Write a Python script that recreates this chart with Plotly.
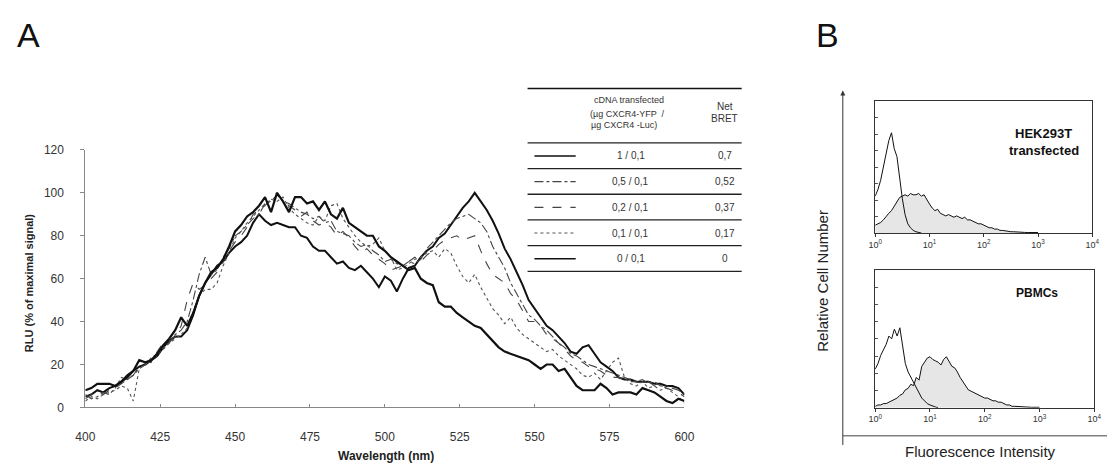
import plotly.graph_objects as go

W, H = 1117, 470

# ---------------- Panel A data (BRET emission spectra) ----------------
wavelength_nm = list(range(400, 601, 2))

rlu_1_01 = [5, 6, 8, 7, 9, 10, 12, 15, 17, 19,
            20, 22, 24, 28, 31, 33, 33, 36, 43, 52,
            58, 62, 66, 68, 72, 75, 77, 80, 86, 90,
            87, 85, 86, 85, 84, 84, 80, 79, 75, 73,
            73, 70, 67, 68, 65, 64, 66, 63, 60, 56,
            61, 59, 54, 60, 65, 66, 70, 73, 75, 79,
            81, 85, 89, 93, 96, 100, 96, 92, 87, 81,
            74, 69, 63, 57, 50, 46, 42, 38, 36, 33,
            30, 26, 25, 28, 29, 25, 21, 19, 17, 14,
            13, 13, 12, 12, 12, 11, 11, 10, 10, 9,
            6]

rlu_05_01 = [6, 4, 5, 7, 6, 9, 14, 13, 15, 18,
             20, 23, 25, 27, 30, 34, 36, 40, 50, 62,
             70, 62, 64, 70, 74, 80, 82, 85, 88, 90,
             95, 96, 99, 96, 95, 93, 91, 90, 88, 89,
             86, 87, 82, 81, 80, 77, 75, 76, 73, 71,
             68, 69, 67, 66, 68, 67, 69, 74, 77, 80,
             83, 86, 88, 89, 90, 88, 86, 82, 75, 70,
             65, 58, 53, 48, 43, 41, 38, 36, 33, 30,
             28, 25, 24, 22, 20, 19, 18, 17, 16, 15,
             14, 13, 12, 13, 11, 12, 10, 10, 9, 8,
             6]

rlu_02_01 = [4, 6, 7, 6, 8, 9, 11, 13, 15, 19,
             21, 21, 26, 30, 31, 33, 38, 50, 58, 55,
             57, 60, 63, 68, 73, 77, 80, 84, 90, 92,
             94, 97, 100, 96, 94, 92, 89, 91, 87, 85,
             86, 84, 80, 82, 79, 75, 72, 74, 71, 69,
             67, 64, 65, 66, 68, 70, 68, 71, 73, 76,
             78, 79, 80, 78, 79, 80, 73, 67, 62, 60,
             58, 53, 50, 45, 40, 40, 38, 34, 32, 30,
             27, 24, 22, 21, 19, 18, 17, 15, 14, 14,
             13, 12, 12, 11, 12, 10, 10, 9, 8, 7,
             5]

rlu_01_01 = [3, 5, 4, 6, 7, 8, 10, 9, 3, 18,
             20, 23, 24, 28, 30, 32, 34, 37, 45, 52,
             55, 55, 58, 66, 72, 79, 82, 86, 89, 92,
             95, 97, 96, 98, 93, 90, 88, 86, 85, 89,
             87, 94, 95, 88, 84, 80, 77, 75, 76, 79,
             73, 70, 64, 65, 67, 69, 70, 72, 73, 70,
             74, 72, 66, 61, 58, 62, 56, 51, 46, 43,
             39, 42, 37, 34, 32, 30, 28, 26, 27, 24,
             22, 20, 18, 15, 14, 16, 13, 17, 21, 23,
             14, 11, 10, 12, 9, 10, 8, 9, 7, 5,
             2]

rlu_0_01 = [8, 9, 11, 11, 11, 10, 12, 14, 17, 22,
            21, 22, 25, 29, 32, 36, 42, 38, 44, 52,
            58, 63, 65, 69, 75, 82, 85, 89, 91, 94,
            98, 91, 100, 96, 91, 98, 98, 95, 96, 92,
            96, 90, 88, 93, 86, 84, 82, 80, 80, 75,
            73, 70, 68, 66, 64, 65, 60, 58, 57, 49,
            47, 47, 44, 42, 40, 38, 37, 34, 31, 28,
            26, 25, 24, 23, 22, 20, 18, 20, 20, 17,
            18, 14, 10, 8, 8, 8, 11, 9, 6, 7,
            7, 7, 6, 9, 8, 7, 5, 3, 2, 4,
            3]

cdna_labels = ["1 / 0,1", "0,5 / 0,1", "0,2 / 0,1", "0,1 / 0,1", "0 / 0,1"]
net_bret = ["0,7", "0,52", "0,37", "0,17", "0"]
x_ticks_a = [400, 425, 450, 475, 500, 525, 550, 575, 600]
y_ticks_a = [0, 20, 40, 60, 80, 100, 120]

# ---------------- Panel B data (flow cytometry histograms) ----------------
log_bins = [0.00, 0.05, 0.10, 0.15, 0.20, 0.25, 0.30, 0.35, 0.40, 0.45,
            0.50, 0.55, 0.60, 0.65, 0.70, 0.75, 0.80, 0.85, 0.90, 0.95,
            1.00, 1.05, 1.10, 1.15, 1.20, 1.25, 1.30, 1.35, 1.40, 1.45,
            1.50, 1.55, 1.60, 1.65, 1.70, 1.75, 1.80, 1.85, 1.90, 1.95,
            2.00, 2.05, 2.10, 2.15, 2.20, 2.25, 2.30, 2.35, 2.40, 2.45,
            2.50, 2.55, 2.60, 2.65, 2.70, 2.75, 2.80, 2.85, 2.90, 2.95,
            3.00, 3.05, 3.10, 3.15, 3.20, 3.25, 3.30, 3.35, 3.40, 3.45,
            3.50, 3.55, 3.60, 3.65, 3.70, 3.75, 3.80, 3.85, 3.90, 3.95,
            4.00]

hek_control = [0.28, 0.33, 0.40, 0.50, 0.58, 0.70, 0.76, 0.64, 0.58, 0.40,
               0.26, 0.14, 0.07, 0.04, 0.02, 0.01, 0.005, 0.0]
hek_cxcr4 = [0.06, 0.07, 0.08, 0.10, 0.13, 0.15, 0.17, 0.20, 0.24, 0.27,
             0.28, 0.29, 0.28, 0.30, 0.29, 0.29, 0.30, 0.28, 0.29, 0.25,
             0.22, 0.19, 0.17, 0.18, 0.15, 0.14, 0.13, 0.14, 0.13, 0.12,
             0.13, 0.12, 0.11, 0.12, 0.10, 0.10, 0.09, 0.08, 0.07, 0.07,
             0.06, 0.05, 0.04, 0.04, 0.03, 0.03, 0.02, 0.02, 0.015, 0.015,
             0.01, 0.01, 0.01, 0.008, 0.006, 0.005, 0.004, 0.004, 0.004, 0.004,
             0.004]
pbmc_control = [0.28, 0.32, 0.38, 0.42, 0.46, 0.52, 0.50, 0.57, 0.52, 0.58,
                0.46, 0.32, 0.26, 0.22, 0.19, 0.14, 0.11, 0.07, 0.05, 0.03,
                0.02, 0.01, 0.005, 0.0]
pbmc_cxcr4 = [0.01, 0.02, 0.02, 0.03, 0.03, 0.04, 0.05, 0.06, 0.07, 0.09,
              0.10, 0.13, 0.14, 0.17, 0.16, 0.22, 0.20, 0.30, 0.33, 0.36,
              0.37, 0.35, 0.34, 0.33, 0.31, 0.35, 0.37, 0.33, 0.30, 0.29,
              0.26, 0.22, 0.19, 0.16, 0.13, 0.12, 0.11, 0.10, 0.09, 0.08,
              0.07, 0.07, 0.06, 0.05, 0.05, 0.04, 0.04, 0.03, 0.02, 0.02,
              0.01, 0.01, 0.008, 0.006, 0.005, 0.003, 0.003, 0.003, 0.003, 0.003,
              0.003]
decade_ticks = [1, 10, 100, 1000, 10000]
decade_text = ["10<sup>0</sup>", "10<sup>1</sup>", "10<sup>2</sup>", "10<sup>3</sup>", "10<sup>4</sup>"]


def px(x):
    return x / W


def py(y):
    return 1 - y / H


FONT = "Liberation Sans, Arial, sans-serif"
fig = go.Figure()

spectra = [rlu_1_01, rlu_05_01, rlu_02_01, rlu_01_01, rlu_0_01]
dashes = ["solid", "dashdot", "dash", "dot", "solid"]
widths = [2.0, 1.1, 1.1, 1.1, 2.2]
colors = ["#111111", "#444444", "#444444", "#555555", "#111111"]
for vals, d, w, c in zip(spectra, dashes, widths, colors):
    fig.add_trace(go.Scatter(x=wavelength_nm, y=vals, mode="lines",
                             line=dict(color=c, width=w, dash=d),
                             xaxis="x", yaxis="y", showlegend=False, hoverinfo="skip"))


def hist_x(vals):
    return [10 ** b for b in log_bins[:len(vals)]]


fig.add_trace(go.Scatter(x=hist_x(hek_cxcr4), y=hek_cxcr4, mode="lines", fill="tozeroy",
                         fillcolor="#e6e6e6", line=dict(color="#111", width=1),
                         xaxis="x2", yaxis="y2", showlegend=False, hoverinfo="skip"))
fig.add_trace(go.Scatter(x=hist_x(hek_control), y=hek_control, mode="lines",
                         line=dict(color="#111", width=1),
                         xaxis="x2", yaxis="y2", showlegend=False, hoverinfo="skip"))
fig.add_trace(go.Scatter(x=hist_x(pbmc_cxcr4), y=pbmc_cxcr4, mode="lines", fill="tozeroy",
                         fillcolor="#e6e6e6", line=dict(color="#111", width=1),
                         xaxis="x3", yaxis="y3", showlegend=False, hoverinfo="skip"))
fig.add_trace(go.Scatter(x=hist_x(pbmc_control), y=pbmc_control, mode="lines",
                         line=dict(color="#111", width=1),
                         xaxis="x3", yaxis="y3", showlegend=False, hoverinfo="skip"))

annotations = []
shapes = []


def text(x, y, s, size, bold=False, angle=0, family=FONT, color="#222", xanchor="center"):
    annotations.append(dict(x=px(x), y=py(y), xref="paper", yref="paper", text=f"<b>{s}</b>" if bold else s,
                            showarrow=False, xanchor=xanchor, yanchor="middle", textangle=angle,
                            font=dict(size=size, family=family, color=color)))


# Panel letters
text(19, 29, "A", 34, family="Liberation Sans Narrow, Arial Narrow, Liberation Sans, sans-serif", color="#111")
text(832, 29, "B", 34, family="Liberation Sans Narrow, Arial Narrow, Liberation Sans, sans-serif", color="#111")

# Panel A axis titles
text(19, 285, "RLU (% of maximal signal)", 11, bold=True, angle=-90, color="#222")
text(383, 463, "Wavelength (nm)", 12, bold=True, color="#222")

# Table
tx0, tx1 = 527, 745
shapes.append(dict(type="line", xref="paper", yref="paper", x0=px(tx0), x1=px(tx1), y0=py(84), y1=py(84),
                   line=dict(color="#111", width=1.5)))
text(630, 96, "cDNA transfected", 9, color="#333")
text(629, 110, "(µg CXCR4-YFP  /", 9, color="#333")
text(625, 122, "µg CXCR4 -Luc)", 9, color="#333")
text(728, 103, "Net", 10, color="#333")
text(728, 115, "BRET", 10, color="#333")
for i in range(6):
    yl = 140 + 26.5 * i
    shapes.append(dict(type="line", xref="paper", yref="paper", x0=px(tx0), x1=px(tx1), y0=py(yl), y1=py(yl),
                       line=dict(color="#222", width=1.3)))
for i, (lab, nb) in enumerate(zip(cdna_labels, net_bret)):
    yc = 153.5 + 26.5 * i
    shapes.append(dict(type="line", xref="paper", yref="paper", x0=px(534), x1=px(576), y0=py(yc), y1=py(yc),
                       line=dict(color=colors[i], width=min(widths[i], 1.6), dash=dashes[i])))
    text(632, yc, lab, 10, color="#333")
    text(728, yc, nb, 10, color="#333")

# Panel B texts
text(1052, 130, "HEK293T", 13, bold=True, color="#111")
text(1053, 148, "transfected", 13, bold=True, color="#111")
text(1046, 295, "PBMCs", 12, bold=True, color="#111")
text(988, 458, "Fluorescence Intensity", 15, color="#222")
text(827, 282, "Relative Cell Number", 15, angle=-90, color="#222")

# Outer frame of panel B (arrow y-axis + baseline)
annotations.append(dict(x=px(848), y=py(86), xref="paper", yref="paper",
                        axref="pixel", ayref="pixel", ax=0, ay=356, text="", showarrow=True,
                        arrowhead=2, arrowsize=1, arrowwidth=1, arrowcolor="#333"))
shapes.append(dict(type="line", xref="paper", yref="paper", x0=px(848), x1=px(1117), y0=py(442), y1=py(442),
                   line=dict(color="#444", width=1)))

axis_a_common = dict(showgrid=False, zeroline=False, showline=True, linecolor="#888", linewidth=1,
                     tickcolor="#888", tickfont=dict(size=12, family=FONT, color="#333"))

hist_x_axis = dict(type="log", range=[0, 4], showgrid=False, zeroline=False, showline=True, mirror=True,
                   linecolor="#333", linewidth=1, ticks="outside", ticklen=3, tickcolor="#333",
                   tickvals=decade_ticks, ticktext=decade_text,
                   tickfont=dict(size=9, family=FONT, color="#333"))
hist_y_axis = dict(range=[0, 1], showgrid=False, zeroline=False, showline=True, mirror=True,
                   linecolor="#333", linewidth=1, ticks="inside", ticklen=3, tickcolor="#555",
                   dtick=0.125, tick0=0, showticklabels=False)

fig.update_layout(
    width=W, height=H, margin=dict(l=0, r=0, t=0, b=0),
    paper_bgcolor="white", plot_bgcolor="white", showlegend=False,
    font=dict(family=FONT),
    xaxis=dict(domain=[px(76.7), px(686.7)], range=[400, 600], tickvals=x_ticks_a, anchor="y",
               ticks="inside", ticklen=3, ticklabelstandoff=18, **axis_a_common),
    yaxis=dict(domain=[py(412.7), py(147.3)], range=[0, 120], tickvals=y_ticks_a, anchor="x",
               ticks="outside", ticklen=4, ticklabelstandoff=14, **axis_a_common),
    xaxis2=dict(domain=[px(881), px(1102)], anchor="y2", **hist_x_axis),
    yaxis2=dict(domain=[py(233), py(97)], anchor="x2", **hist_y_axis),
    xaxis3=dict(domain=[px(881), px(1104)], anchor="y3", **hist_x_axis),
    yaxis3=dict(domain=[py(413), py(271)], anchor="x3", **hist_y_axis),
    annotations=annotations, shapes=shapes,
)

fig.write_html("out.html")
